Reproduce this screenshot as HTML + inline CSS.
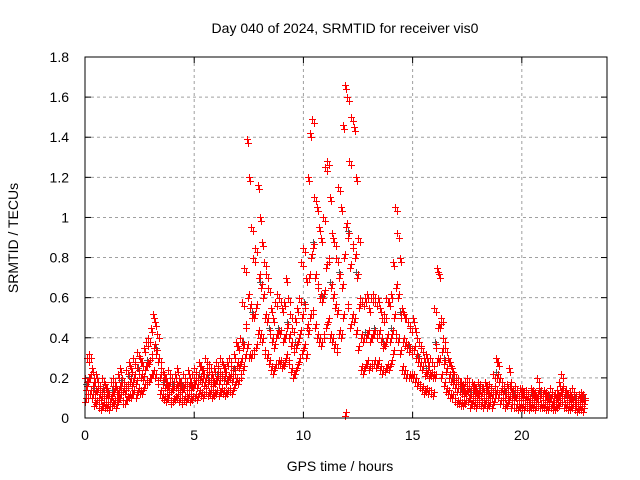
<!DOCTYPE html>
<html><head><meta charset="utf-8"><style>
body{margin:0;background:#fff}
svg{display:block;font-family:"Liberation Sans",sans-serif}
</style></head><body>
<svg id="chart" width="640" height="480" viewBox="0 0 640 480">
<text x="345" y="33" font-size="14" text-anchor="middle">Day 040 of 2024, SRMTID for receiver vis0</text>
<text x="340" y="471" font-size="14" text-anchor="middle">GPS time / hours</text>
<text x="18" y="238" font-size="14" text-anchor="middle" transform="rotate(-90 18 238)">SRMTID / TECUs</text>
<g id="grid"></g><g id="ticks"></g><g id="marks"></g>
<rect x="85" y="57" width="522" height="361" fill="none" stroke="#000"/>
</svg>
<script>
const xTicks=[0,5,10,15,20];
const yTicks=[0,0.2,0.4,0.6,0.8,1,1.2,1.4,1.6,1.8];
const yLabels=["0","0.2","0.4","0.6","0.8","1","1.2","1.4","1.6","1.8"];
const tStart=0, tStep=0.1;
const hiVals=[0.2,0.3,0.32,0.25,0.2,0.22,0.18,0.15,0.2,0.17,
0.15,0.12,0.18,0.2,0.16,0.22,0.25,0.2,0.18,0.24,
0.28,0.25,0.3,0.27,0.33,0.3,0.28,0.35,0.38,0.4,
0.45,0.52,0.48,0.42,0.3,0.25,0.22,0.2,0.24,0.18,
0.2,0.22,0.25,0.2,0.18,0.22,0.2,0.24,0.2,0.22,
0.25,0.22,0.28,0.26,0.24,0.3,0.25,0.27,0.22,0.25,
0.28,0.25,0.3,0.27,0.25,0.28,0.3,0.26,0.32,0.38,
0.36,0.4,0.58,0.75,1.39,1.2,0.95,0.8,0.85,1.16,
1.0,0.88,0.78,0.72,0.65,0.55,0.5,0.58,0.62,0.6,
0.55,0.58,0.7,0.6,0.52,0.45,0.5,0.55,0.6,0.78,
0.85,0.7,1.2,1.42,1.49,1.1,1.05,0.95,0.9,1.0,
1.25,1.28,1.1,0.92,0.88,0.8,1.15,1.05,1.46,1.66,
1.6,1.28,1.5,1.45,1.2,0.9,0.6,0.58,0.6,0.62,
0.55,0.6,0.62,0.58,0.6,0.55,0.5,0.52,0.6,0.58,
0.62,0.78,1.05,0.92,0.8,0.55,0.52,0.5,0.48,0.45,
0.5,0.45,0.4,0.38,0.35,0.3,0.32,0.28,0.3,0.28,
0.55,0.75,0.72,0.5,0.4,0.35,0.3,0.28,0.25,0.22,
0.2,0.2,0.18,0.17,0.18,0.2,0.16,0.18,0.17,0.15,
0.18,0.17,0.15,0.18,0.16,0.17,0.15,0.22,0.3,0.28,
0.2,0.18,0.15,0.17,0.25,0.15,0.14,0.16,0.13,0.15,
0.15,0.13,0.14,0.12,0.15,0.14,0.13,0.2,0.15,0.14,
0.14,0.13,0.12,0.15,0.13,0.12,0.14,0.18,0.22,0.15,
0.14,0.12,0.13,0.15,0.12,0.11,0.12,0.13,0.12];
const midVals=[0.14,0.18,0.2,0.16,0.12,0.13,0.1,0.09,0.12,0.1,
0.1,0.08,0.11,0.13,0.1,0.14,0.16,0.13,0.12,0.15,
0.18,0.16,0.2,0.17,0.22,0.2,0.19,0.24,0.26,0.27,
0.3,0.35,0.32,0.28,0.2,0.17,0.15,0.14,0.16,0.13,
0.14,0.15,0.16,0.14,0.13,0.15,0.14,0.16,0.14,0.15,
0.17,0.15,0.19,0.18,0.16,0.2,0.17,0.18,0.16,0.17,
0.19,0.17,0.2,0.19,0.17,0.19,0.2,0.18,0.22,0.26,
0.25,0.28,0.35,0.45,0.6,0.55,0.5,0.5,0.55,0.7,
0.65,0.6,0.5,0.48,0.42,0.38,0.35,0.4,0.42,0.42,
0.38,0.4,0.45,0.4,0.36,0.33,0.35,0.38,0.42,0.5,
0.55,0.45,0.7,0.8,0.85,0.7,0.65,0.6,0.58,0.62,
0.75,0.78,0.65,0.6,0.55,0.52,0.7,0.65,0.8,0.95,
0.9,0.75,0.85,0.8,0.7,0.55,0.4,0.38,0.4,0.42,
0.38,0.4,0.42,0.4,0.42,0.38,0.35,0.36,0.4,0.38,
0.42,0.5,0.65,0.6,0.5,0.38,0.36,0.35,0.33,0.32,
0.34,0.3,0.28,0.26,0.24,0.21,0.22,0.2,0.21,0.2,
0.35,0.45,0.45,0.33,0.27,0.23,0.2,0.18,0.17,0.15,
0.13,0.13,0.12,0.11,0.12,0.13,0.1,0.12,0.11,0.1,
0.12,0.11,0.1,0.12,0.1,0.11,0.1,0.14,0.2,0.18,
0.13,0.12,0.1,0.11,0.16,0.1,0.09,0.1,0.09,0.1,
0.1,0.09,0.09,0.08,0.1,0.09,0.08,0.12,0.1,0.09,
0.09,0.08,0.08,0.1,0.08,0.08,0.09,0.11,0.14,0.1,
0.09,0.08,0.08,0.09,0.07,0.07,0.08,0.08,0.07];
const loVals=[0.08,0.1,0.12,0.1,0.06,0.07,0.05,0.04,0.06,0.05,
0.05,0.04,0.06,0.07,0.05,0.08,0.1,0.07,0.07,0.09,
0.1,0.1,0.12,0.1,0.13,0.12,0.12,0.15,0.17,0.18,
0.2,0.22,0.2,0.17,0.12,0.1,0.09,0.08,0.1,0.07,
0.08,0.09,0.1,0.08,0.07,0.09,0.08,0.1,0.08,0.09,
0.1,0.09,0.12,0.11,0.1,0.13,0.11,0.12,0.1,0.11,
0.12,0.11,0.13,0.12,0.11,0.12,0.13,0.12,0.15,0.18,
0.17,0.2,0.24,0.3,0.35,0.3,0.3,0.32,0.35,0.42,
0.4,0.38,0.32,0.3,0.27,0.24,0.22,0.25,0.27,0.27,
0.25,0.26,0.3,0.27,0.23,0.2,0.22,0.25,0.28,0.32,
0.35,0.3,0.42,0.5,0.52,0.45,0.4,0.38,0.36,0.4,
0.45,0.48,0.4,0.38,0.35,0.33,0.42,0.4,0.5,0.01,
0.55,0.45,0.5,0.48,0.42,0.34,0.24,0.22,0.25,0.27,
0.24,0.25,0.27,0.25,0.27,0.24,0.22,0.23,0.25,0.24,
0.27,0.32,0.4,0.38,0.32,0.24,0.22,0.2,0.2,0.2,
0.2,0.18,0.16,0.15,0.14,0.12,0.13,0.12,0.12,0.11,
0.2,0.28,0.28,0.2,0.16,0.13,0.12,0.1,0.1,0.08,
0.07,0.07,0.06,0.06,0.07,0.08,0.05,0.07,0.06,0.05,
0.07,0.06,0.05,0.07,0.05,0.06,0.05,0.08,0.12,0.1,
0.07,0.07,0.05,0.06,0.09,0.05,0.05,0.05,0.04,0.05,
0.05,0.04,0.05,0.04,0.05,0.05,0.04,0.06,0.05,0.05,
0.05,0.04,0.04,0.05,0.04,0.04,0.05,0.06,0.08,0.05,
0.05,0.04,0.04,0.05,0.04,0.03,0.04,0.04,0.03];

const NS="http://www.w3.org/2000/svg";
const X0=85,X1=607,Y0=418,Y1=57,XMAX=23.9,YMAX=1.8;
const xs=v=>X0+v/XMAX*(X1-X0);
const ys=v=>Y0-v/YMAX*(Y0-Y1);
const grid=document.getElementById('grid'),ticks=document.getElementById('ticks'),marks=document.getElementById('marks');
function mk(tag,attrs,parent){const e=document.createElementNS(NS,tag);for(const k in attrs)e.setAttribute(k,attrs[k]);parent.appendChild(e);return e;}
xTicks.forEach(v=>{
  const x=xs(v);
  if(v>0){const g=mk('line',{x1:x,y1:Y1,x2:x,y2:Y0,stroke:'#a0a0a0','stroke-dasharray':'3,3'},grid);
  
  }
  const t=mk('text',{x:x,y:Y0+22,'font-size':14,'text-anchor':'middle'},ticks);t.textContent=v;
  
  
  mk('line',{x1:x,y1:Y0,x2:x,y2:Y0-6,stroke:'#000'},ticks);
  mk('line',{x1:x,y1:Y1,x2:x,y2:Y1+6,stroke:'#000'},ticks);
});
yTicks.forEach((v,i)=>{
  const y=ys(v);
  if(v>0&&v<YMAX){const g=mk('line',{x1:X0,y1:y,x2:X1,y2:y,stroke:'#a0a0a0','stroke-dasharray':'3,3'},grid);
  
  }
  const t=mk('text',{x:X0-16,y:y+5,'font-size':14,'text-anchor':'end'},ticks);t.textContent=yLabels[i];
  
  
  mk('line',{x1:X0,y1:y,x2:X0+6,y2:y,stroke:'#000'},ticks);
  mk('line',{x1:X1,y1:y,x2:X1-6,y2:y,stroke:'#000'},ticks);
});
let d='',dg='';
function plus(t,v){const x=Math.round(xs(t))+0.5,y=Math.round(ys(v))+0.5;return `M${x-3.5},${y}h7M${x},${y-3.5}v7`;}
for(let i=0;i<hiVals.length;i++){
  const t=tStart+i*tStep;
  if(i%4===0) dg+=plus(t+0.03,midVals[i]+0.03);
  d+=plus(t,hiVals[i])+plus(t+0.05,midVals[i])+plus(t+0.02,loVals[i]);
  // duplicate samples (second receiver pass) slightly offset in time
  d+=plus(t+0.07,hiVals[i]-0.02)+plus(t+0.09,midVals[i]+0.02)+plus(t+0.06,loVals[i]+0.02);
}
const pg=mk('path',{d:dg,stroke:'#555',fill:'none','stroke-width':1},marks);


const p=mk('path',{d:d,stroke:'#ff0000',fill:'none','stroke-width':1},marks);


</script>
</body></html>
